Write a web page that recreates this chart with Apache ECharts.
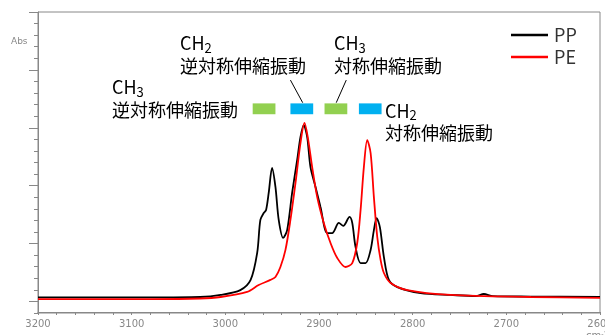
<!DOCTYPE html>
<html><head><meta charset="utf-8">
<script src="https://cdn.jsdelivr.net/npm/echarts@6/dist/echarts.min.js"></script>
<style>html,body{margin:0;padding:0;background:#fff}#c{width:605px;height:335px}</style>
</head><body><div id="c"></div>
<script>
// PP (black) spectrum: wavenumber (cm-1) and absorbance (arb.)
const ppWavenumber = [3200,3080,3027,3005,2984,2973,2966,2962.6,2959,2956.5,2953.7,2950.1,2946.5,2943,2938.3,2934,2928.7,2923.3,2919.8,2916.3,2912.6,2909.1,2903.7,2898.4,2891.2,2885.9,2878.8,2874.1,2867.4,2864.5,2861,2855.6,2850.3,2844.9,2841.4,2838.5,2835,2830.7,2825.4,2816.4,2791.5,2759.4,2732.6,2724.1,2714.4,2673.8,2600];
const ppAbs = [0.063,0.063,0.065,0.074,0.095,0.139,0.256,0.399,0.429,0.442,0.516,0.624,0.542,0.399,0.321,0.355,0.516,0.659,0.758,0.810,0.758,0.628,0.542,0.455,0.342,0.342,0.386,0.373,0.412,0.386,0.282,0.212,0.212,0.269,0.355,0.407,0.368,0.238,0.139,0.108,0.082,0.074,0.069,0.078,0.069,0.067,0.065];
// PE (red) spectrum
const peWavenumber = [3200,3080,3027,3005,2976.8,2964.4,2951.9,2946.5,2941.2,2935.8,2930.5,2925.1,2919.8,2915.5,2912,2907.3,2901.9,2894.9,2887.7,2880.5,2871.7,2864.5,2859.2,2855.6,2852.1,2848.5,2844.9,2841.4,2837.8,2834.2,2830.7,2823.5,2805.7,2759.4,2673.8,2600];
const peAbs = [0.056,0.056,0.0585,0.065,0.087,0.117,0.139,0.152,0.195,0.269,0.399,0.559,0.732,0.819,0.758,0.628,0.498,0.386,0.299,0.234,0.195,0.212,0.299,0.442,0.628,0.745,0.689,0.498,0.325,0.225,0.169,0.126,0.095,0.074,0.065,0.061];
// annotation bands (wavenumber ranges) and their colours
const bandRanges = [[2970.8,2946.5],[2930.5,2906.2],[2894.1,2869.8],[2857.4,2833.2]];
const bandColors = ['#92D050','#00B0F0','#92D050','#00B0F0'];
const bandAbs = [0.857,0.904];
const xTicks = {min:2600,max:3200,interval:100};
const yMajorTicks = [0,5,10,15,20,25];
const yMinorTicks = [1,2,3,4,6,7,8,9,11,12,13,14,16,17,18,19,21,22,23,24,26];

const zip = (a,b)=>a.map((v,i)=>[v,b[i]]);
const FONT = '"Noto Sans CJK JP","Noto Sans",sans-serif';
const TXT = '#333';
const rich = {
  m:{fontSize:18,fontFamily:FONT,color:TXT,lineHeight:23},
  s:{fontSize:13,fontFamily:FONT,color:TXT,lineHeight:12,verticalAlign:'bottom'}
};
function label(x,y,sub,body,lh){
  const r = JSON.parse(JSON.stringify(rich));
  if(lh){r.m.lineHeight=lh;}
  return {type:'text',x:x,y:y,silent:true,style:{text:'{m|CH}{s|'+sub+'}\n{m|'+body+'}',rich:r,verticalAlign:'top',align:'left'}};
}

const chart = echarts.init(document.getElementById('c'),null,{renderer:'canvas'});
const gray = '#888';
chart.setOption({
  animation:false,
  backgroundColor:'#fff',
  grid:{left:38,top:12,right:5,bottom:22,show:true,borderColor:gray,borderWidth:1,backgroundColor:'transparent',outerBoundsMode:'none',containLabel:false},
  legend:{
    orient:'vertical',left:506,top:19,itemWidth:37,itemHeight:2.5,itemGap:0,icon:'rect',
    textStyle:{fontSize:18,fontFamily:FONT,color:TXT,lineHeight:22,padding:[0,0,0,1]},
    data:['PP','PE']
  },
  xAxis:{
    type:'value',min:xTicks.min,max:xTicks.max,interval:xTicks.interval,inverse:true,
    axisLine:{show:true,lineStyle:{color:gray}},
    axisTick:{show:true,length:3,lineStyle:{color:gray}},
    minorTick:{show:true,splitNumber:5,length:3,lineStyle:{color:gray}},
    axisLabel:{fontSize:10,color:gray,margin:6,fontFamily:'"DejaVu Sans",sans-serif',showMinLabel:true,showMaxLabel:true,formatter:v=>String(v)},
    splitLine:{show:false}
  },
  yAxis:[
    {type:'value',min:-0.0043,max:1.3,show:false},
    {type:'value',inverse:true,min:0,max:26,position:'left',
      axisLine:{show:true,lineStyle:{color:gray}},
      axisTick:{show:true,length:4,customValues:yMinorTicks,lineStyle:{color:gray}},
      axisLabel:{show:false},splitLine:{show:false}},
    {type:'value',inverse:true,min:0,max:26,position:'left',
      axisLine:{show:false},
      axisTick:{show:true,length:9,customValues:yMajorTicks,lineStyle:{color:gray}},
      axisLabel:{show:false},splitLine:{show:false}}
  ],
  series:[
    {name:'PP',type:'line',yAxisIndex:0,data:zip(ppWavenumber,ppAbs),showSymbol:false,smooth:0.3,
      color:'#000',lineStyle:{color:'#000',width:1.8},
      markArea:{silent:true,data:bandRanges.map((r,i)=>[
        {xAxis:r[0],yAxis:bandAbs[0],itemStyle:{color:bandColors[i],opacity:1}},
        {xAxis:r[1],yAxis:bandAbs[1]}])},
      markLine:{silent:true,symbol:'none',label:{show:false},lineStyle:{color:'#000',width:1,type:'solid'},
        data:[
          [{coord:[2930.5,1.005]},{coord:[2917.4,0.907]}],
          [{coord:[2870.9,1.005]},{coord:[2881.6,0.907]}]
        ]}
    },
    {name:'PE',type:'line',yAxisIndex:0,data:zip(peWavenumber,peAbs),showSymbol:false,smooth:0.3,
      color:'#ff0000',lineStyle:{color:'#ff0000',width:1.8}}
  ],
  graphic:[
    label(112,75.5,'3','逆対称伸縮振動'),
    label(180,32,'2','逆対称伸縮振動'),
    label(334,32,'3','対称伸縮振動'),
    label(385,100,'2','対称伸縮振動',22),
    {type:'text',x:11,y:42,silent:true,style:{text:'Abs',fontSize:9,fontFamily:'"DejaVu Sans",sans-serif',fill:gray,verticalAlign:'middle'}},
    {type:'text',x:586,y:331,silent:true,style:{text:'cm{u|-1}',fontSize:10,fontFamily:'"DejaVu Sans",sans-serif',fill:gray,verticalAlign:'top',rich:{u:{fontSize:7,verticalAlign:'top',fill:gray}}}}
  ]
});
</script></body></html>
